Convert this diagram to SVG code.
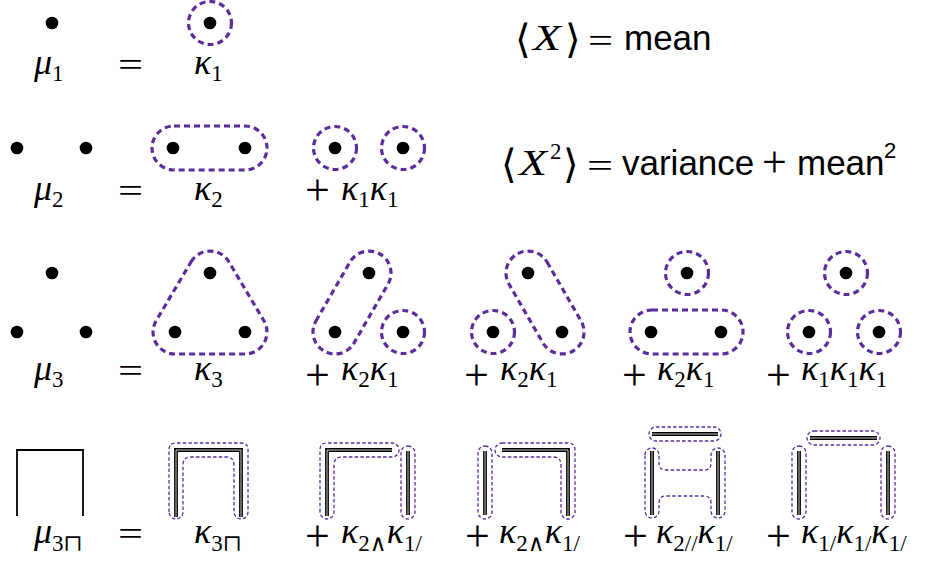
<svg xmlns="http://www.w3.org/2000/svg" width="937" height="565" viewBox="0 0 937 565">
<style>
.dot{fill:#000}
.grp{fill:none;stroke:#5a2d9a;stroke-width:3.2;stroke-dasharray:6 4}
.grp2{fill:none;stroke:#5a2d9a;stroke-width:1.3;stroke-dasharray:3.5 2.2}
.ln{fill:none;stroke:#000;stroke-width:1.8}
.dl{fill:none;stroke:#000;stroke-width:3.8}
.dlw{fill:none;stroke:#fff;stroke-width:0.8}
text{font-family:"Liberation Serif","DejaVu Serif",serif;fill:#000}
.m{font-size:36px;font-style:italic}
.s{font-size:23px;font-style:normal}
.op{font-size:34px;font-style:normal}
.pl{font-size:44px;font-style:normal}
.sans{font-family:"Liberation Sans","DejaVu Sans",sans-serif;font-size:35px;font-style:normal}
.br{font-family:"DejaVu Serif","Liberation Serif",serif;font-size:40px;font-style:normal}
</style>
<rect width="937" height="565" fill="#fff"/>

<!-- Row 1 -->
<g id="mu1-diagram"><circle class="dot" cx="52" cy="23" r="6.3"/></g>
<g id="kappa1-diagram"><circle class="grp" cx="210" cy="23" r="21.5"/><circle class="dot" cx="210" cy="23" r="6.3"/></g>
<g id="row1-labels">
<text class="m" x="34" y="74">μ<tspan class="s" dy="7">1</tspan></text>
<text class="op" x="118" y="76" textLength="25" lengthAdjust="spacingAndGlyphs">=</text>
<text class="m" x="194" y="74">κ<tspan class="s" dy="7">1</tspan></text>
</g>
<g id="mean-eq">
<text class="br" x="515" y="53">⟨</text>
<text class="m" x="533" y="50" textLength="28" lengthAdjust="spacingAndGlyphs">X</text>
<text class="br" x="565" y="53">⟩</text>
<text class="op" x="588" y="52" textLength="25" lengthAdjust="spacingAndGlyphs">=</text>
<text class="sans" x="624" y="50">mean</text>
</g>

<!-- Row 2 -->
<g id="mu2-diagram"><circle class="dot" cx="17" cy="148" r="6.3"/><circle class="dot" cx="86" cy="148" r="6.3"/></g>
<g id="kappa2-diagram"><rect class="grp" x="152" y="126" width="115" height="44" rx="22"/><circle class="dot" cx="173" cy="148" r="6.3"/><circle class="dot" cx="245" cy="148" r="6.3"/></g>
<g id="k1k1-diagram"><circle class="grp" cx="335" cy="148" r="21.5"/><circle class="dot" cx="335" cy="148" r="6.3"/><circle class="grp" cx="403" cy="148" r="21.5"/><circle class="dot" cx="403" cy="148" r="6.3"/></g>
<g id="row2-labels">
<text class="m" x="34" y="200">μ<tspan class="s" dy="7">2</tspan></text>
<text class="op" x="118" y="202" textLength="25" lengthAdjust="spacingAndGlyphs">=</text>
<text class="m" x="194" y="200">κ<tspan class="s" dy="7">2</tspan></text>
<text class="pl" x="305" y="205">+</text>
<text class="m" x="341" y="200">κ<tspan class="s" dy="7">1</tspan><tspan dy="-7">κ</tspan><tspan class="s" dy="7">1</tspan></text>
</g>
<g id="variance-eq">
<text class="br" x="501" y="178">⟨</text>
<text class="m" x="519" y="175" textLength="28" lengthAdjust="spacingAndGlyphs">X</text>
<text class="s" x="550" y="159">2</text>
<text class="br" x="563" y="178">⟩</text>
<text class="op" x="587" y="177" textLength="26" lengthAdjust="spacingAndGlyphs">=</text>
<text class="sans" x="622" y="175">variance</text>
<text class="pl" x="762" y="177">+</text>
<text class="sans" x="797" y="175">mean</text>
<text class="sans" x="884" y="158" style="font-size:22px">2</text>
</g>

<!-- Row 3 -->
<g id="mu3-diagram"><circle class="dot" cx="52" cy="273" r="6.3"/><circle class="dot" cx="17" cy="332" r="6.3"/><circle class="dot" cx="86" cy="332" r="6.3"/></g>
<g id="kappa3-diagram">
<path class="grp" d="M 191.1 261.8 A 22 22 0 0 1 228.9 261.8 L 263.9 320.8 A 22 22 0 0 1 245 354 L 175 354 A 22 22 0 0 1 156.1 320.8 Z"/>
<circle class="dot" cx="210" cy="273" r="6.3"/><circle class="dot" cx="175" cy="332" r="6.3"/><circle class="dot" cx="245" cy="332" r="6.3"/>
</g>
<g id="k2k1-a-diagram">
<rect class="grp" x="-56" y="-22" width="112" height="44" rx="22" transform="translate(352 302.5) rotate(-60)"/>
<circle class="dot" cx="369" cy="273" r="6.3"/><circle class="dot" cx="335" cy="332" r="6.3"/>
<circle class="grp" cx="403" cy="332" r="21.5"/><circle class="dot" cx="403" cy="332" r="6.3"/>
</g>
<g id="k2k1-b-diagram">
<rect class="grp" x="-56" y="-22" width="112" height="44" rx="22" transform="translate(545 302.5) rotate(60)"/>
<circle class="dot" cx="528" cy="273" r="6.3"/><circle class="dot" cx="562" cy="332" r="6.3"/>
<circle class="grp" cx="493" cy="332" r="21.5"/><circle class="dot" cx="493" cy="332" r="6.3"/>
</g>
<g id="k2k1-c-diagram">
<circle class="grp" cx="687" cy="273" r="21.5"/><circle class="dot" cx="687" cy="273" r="6.3"/>
<rect class="grp" x="630" y="310" width="113" height="44" rx="22"/>
<circle class="dot" cx="651" cy="332" r="6.3"/><circle class="dot" cx="721" cy="332" r="6.3"/>
</g>
<g id="k1k1k1-diagram">
<circle class="grp" cx="846" cy="273" r="21.5"/><circle class="dot" cx="846" cy="273" r="6.3"/>
<circle class="grp" cx="809" cy="332" r="21.5"/><circle class="dot" cx="809" cy="332" r="6.3"/>
<circle class="grp" cx="879" cy="332" r="21.5"/><circle class="dot" cx="879" cy="332" r="6.3"/>
</g>
<g id="row3-labels">
<text class="m" x="34" y="380">μ<tspan class="s" dy="7">3</tspan></text>
<text class="op" x="118" y="382" textLength="25" lengthAdjust="spacingAndGlyphs">=</text>
<text class="m" x="194" y="380">κ<tspan class="s" dy="7">3</tspan></text>
<text class="pl" x="305" y="390">+</text>
<text class="m" x="341" y="380">κ<tspan class="s" dy="7">2</tspan><tspan dy="-7">κ</tspan><tspan class="s" dy="7">1</tspan></text>
<text class="pl" x="464" y="390">+</text>
<text class="m" x="500" y="380">κ<tspan class="s" dy="7">2</tspan><tspan dy="-7">κ</tspan><tspan class="s" dy="7">1</tspan></text>
<text class="pl" x="622" y="390">+</text>
<text class="m" x="657" y="380">κ<tspan class="s" dy="7">2</tspan><tspan dy="-7">κ</tspan><tspan class="s" dy="7">1</tspan></text>
<text class="pl" x="766" y="390">+</text>
<text class="m" x="801" y="380">κ<tspan class="s" dy="7">1</tspan><tspan dy="-7">κ</tspan><tspan class="s" dy="7">1</tspan><tspan dy="-7">κ</tspan><tspan class="s" dy="7">1</tspan></text>
</g>

<!-- Row 4 -->
<g id="mu3cap-diagram"><path class="ln" d="M 17 516 V 450 H 83 V 516"/></g>
<g id="kappa3cap-diagram">
<path class="dl" d="M 176 517 V 450 H 241 V 517"/><path class="dlw" d="M 176 517 V 450 H 241 V 517"/>
<path class="grp2" d="M 169 512 V 450 Q 169 443 176 443 H 241 Q 248 443 248 450 V 512 A 7 7 0 0 1 234 512 V 465 Q 234 457 226 457 H 191 Q 183 457 183 465 V 512 A 7 7 0 0 1 169 512 Z"/>
</g>
<g id="k2w-k1v-a-diagram">
<path class="dl" d="M 327 516 V 450 H 392"/><path class="dlw" d="M 327 516 V 450 H 392"/>
<path class="grp2" d="M 320 512 V 450 Q 320 443 327 443 H 392 A 7 7 0 0 1 392 457 H 342 Q 334 457 334 465 V 512 A 7 7 0 0 1 320 512 Z"/>
<path class="dl" d="M 408 451 V 515"/><path class="dlw" d="M 408 451 V 515"/>
<rect class="grp2" x="401" y="446" width="14" height="73" rx="7"/>
</g>
<g id="k2w-k1v-b-diagram">
<path class="dl" d="M 485 451 V 515"/><path class="dlw" d="M 485 451 V 515"/>
<rect class="grp2" x="478" y="446" width="14" height="73" rx="7"/>
<path class="dl" d="M 502 450 H 568 V 516"/><path class="dlw" d="M 502 450 H 568 V 516"/>
<path class="grp2" d="M 502 443 H 568 Q 575 443 575 450 V 512 A 7 7 0 0 1 561 512 V 465 Q 561 457 553 457 H 502 A 7 7 0 0 1 502 443 Z"/>
</g>
<g id="k2par-k1v-diagram">
<path class="dl" d="M 652 434 H 718"/><path class="dlw" d="M 652 434 H 718"/>
<rect class="grp2" x="649" y="427" width="72" height="14" rx="7"/>
<path class="dl" d="M 652 451 V 515 M 718 451 V 515"/><path class="dlw" d="M 652 451 V 515 M 718 451 V 515"/>
<path class="grp2" d="M 645 455 A 7 7 0 0 1 659 455 V 463 Q 659 470 666 470 H 704 Q 711 470 711 463 V 455 A 7 7 0 0 1 725 455 V 511 A 7 7 0 0 1 711 511 V 503 Q 711 496 704 496 H 666 Q 659 496 659 503 V 511 A 7 7 0 0 1 645 511 Z"/>
</g>
<g id="k1v-k1v-k1v-diagram">
<path class="dl" d="M 810 438 H 877"/><path class="dlw" d="M 810 438 H 877"/>
<rect class="grp2" x="807" y="431" width="73" height="14" rx="7"/>
<path class="dl" d="M 799 451 V 515 M 888 451 V 515"/><path class="dlw" d="M 799 451 V 515 M 888 451 V 515"/>
<rect class="grp2" x="792" y="446" width="14" height="73" rx="7"/>
<rect class="grp2" x="881" y="446" width="14" height="73" rx="7"/>
</g>
<g id="row4-labels">
<text class="m" x="34" y="543">μ<tspan class="s" dy="8">3⊓</tspan></text>
<text class="op" x="118" y="545" textLength="25" lengthAdjust="spacingAndGlyphs">=</text>
<text class="m" x="194" y="543">κ<tspan class="s" dy="8">3⊓</tspan></text>
<text class="pl" x="305" y="551">+</text>
<text class="m" x="341" y="543">κ<tspan class="s" dy="8">2∧</tspan><tspan dy="-8">κ</tspan><tspan class="s" dy="8">1/</tspan></text>
<text class="pl" x="465" y="551">+</text>
<text class="m" x="499" y="543">κ<tspan class="s" dy="8">2∧</tspan><tspan dy="-8">κ</tspan><tspan class="s" dy="8">1/</tspan></text>
<text class="pl" x="623" y="551">+</text>
<text class="m" x="656" y="543">κ<tspan class="s" dy="8">2//</tspan><tspan dy="-8">κ</tspan><tspan class="s" dy="8">1/</tspan></text>
<text class="pl" x="766" y="551">+</text>
<text class="m" x="801" y="543">κ<tspan class="s" dy="8">1/</tspan><tspan dy="-8">κ</tspan><tspan class="s" dy="8">1/</tspan><tspan dy="-8">κ</tspan><tspan class="s" dy="8">1/</tspan></text>
</g>
</svg>
